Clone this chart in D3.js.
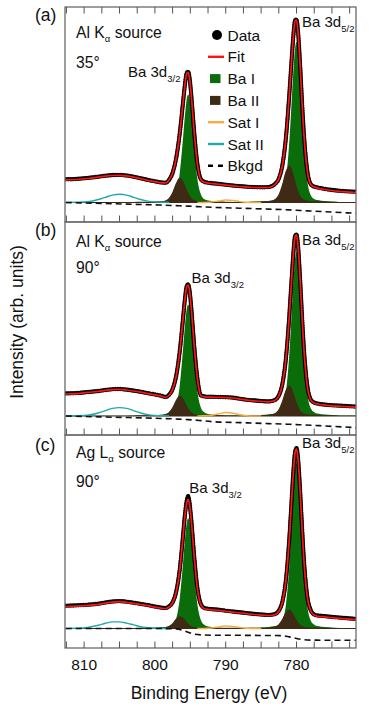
<!DOCTYPE html>
<html><head><meta charset="utf-8">
<script src="https://cdn.jsdelivr.net/npm/d3@7"></script>
<style>
body{margin:0;background:#fff}
svg{display:block}
text{font-family:"Liberation Sans",Arial,Helvetica,sans-serif;fill:#111}
</style>
</head><body>
<svg id="chart" width="374" height="708"></svg>
<script>
// ---------- data (binding energy, eV) ----------
const energy = [812.6,811,809.5,808,807,806,805,804,803,802,801,800,799,798.5,798,797.5,797,796.5,796,795.8,795.5,795.3,795.1,794.8,794.5,794,793.5,793,792.5,792,791,790,789,788,787,786,785,784,783.5,783,782.5,782,781.5,781,780.7,780.5,780.2,780,779.8,779.5,779.2,779,778.5,778,777.5,777,776,775,774,773,771.6];

const dataA = [11.6,11.8,12.3,12.9,13.4,13.7,13.8,13.5,12.9,12.1,11.3,10.6,10.0,9.9,11.3,14.9,22.1,34.4,51.1,57.8,64.9,65.4,62.0,50.9,37.2,19.2,11.6,10.3,9.9,9.7,9.3,8.9,8.5,8.2,7.9,7.7,7.6,7.7,8.2,9.4,11.9,18.6,32.3,55.0,71.0,81.0,91.1,91.5,85.9,69.2,48.7,36.5,16.4,9.2,7.9,7.5,6.8,6.3,5.9,5.6,5.4];
const fitA  = [11.3,11.5,12.0,12.7,13.2,13.5,13.6,13.3,12.7,11.9,11.1,10.4,9.8,9.8,11.2,14.8,22.0,34.3,51.0,57.6,64.6,65.0,61.8,50.8,37.1,19.1,11.4,10.1,9.7,9.5,9.1,8.7,8.3,8.0,7.7,7.5,7.4,7.5,8.0,9.2,11.8,18.5,32.2,54.9,70.9,80.9,90.9,91.2,85.8,69.1,48.6,36.4,16.3,9.0,7.7,7.2,6.5,6.0,5.6,5.3,5.0];
const baIA  = [0.0,0.0,0.1,0.1,0.1,0.1,0.1,0.1,0.2,0.2,0.3,0.4,0.6,0.7,1.0,1.9,4.9,14.5,33.5,42.0,51.9,54.0,51.9,42.1,29.2,11.8,4.0,1.6,1.0,0.8,0.5,0.4,0.3,0.3,0.3,0.4,0.5,0.8,0.9,1.3,1.9,3.9,11.4,31.4,49.8,62.6,77.1,80.4,77.1,62.6,43.3,31.4,11.3,3.8,1.8,1.2,0.7,0.5,0.3,0.2,0.2];
const baIIA = [0,0,0,0,0,0,0,0,0,0.1,0.1,0.2,0.4,0.8,2.0,4.8,9.2,12.1,10.0,8.3,5.6,4.1,2.9,1.7,1.0,0.5,0.3,0.2,0.2,0.1,0.1,0,0,0,0,0.2,0.3,0.5,0.7,1.5,3.6,8.5,15.1,18.2,16.2,13.8,9.8,7.3,5.2,3.0,1.7,1.2,0.7,0.4,0.3,0.3,0.2,0.1,0,0,0];

const dataB = [11.3,11.5,12.0,12.5,13.0,13.4,13.5,13.2,12.7,12.1,11.4,10.8,10.0,9.5,10.6,13.5,20.0,32.2,49.9,57.2,65.0,65.8,62.5,51.3,37.2,18.8,10.3,9.8,9.6,9.6,9.5,9.4,9.2,8.6,8.1,7.8,7.5,7.3,7.5,8.1,10.2,16.0,28.7,51.2,68.0,78.7,90.0,90.8,85.7,69.0,48.4,36.0,15.7,8.3,6.7,6.2,5.7,5.4,5.2,5.0,4.7];
const fitB  = [11.0,11.2,11.8,12.3,12.8,13.2,13.3,13.0,12.5,11.9,11.2,10.6,9.8,9.3,10.4,13.3,19.8,32.0,49.7,57.0,64.7,65.5,62.3,51.1,37.0,18.6,10.1,9.6,9.4,9.4,9.3,9.2,9.0,8.4,7.9,7.6,7.3,7.1,7.3,7.9,10.0,15.8,28.5,51.0,67.8,78.5,89.8,90.6,85.5,68.8,48.2,35.8,15.5,8.1,6.5,6.0,5.4,5.1,4.9,4.7,4.4];
const baIB  = [0.0,0.0,0.1,0.1,0.1,0.1,0.1,0.1,0.2,0.2,0.3,0.4,0.6,0.8,1.1,1.9,5.0,15.0,34.6,43.5,53.6,55.8,53.6,43.5,30.1,12.2,4.1,1.7,1.0,0.8,0.5,0.4,0.4,0.3,0.4,0.4,0.5,0.8,1.0,1.3,1.9,4.0,11.6,32.0,50.8,63.8,78.7,82.0,78.7,63.8,44.2,32.0,11.6,3.9,1.9,1.2,0.7,0.5,0.3,0.2,0.2];
const baIIB = [0,0,0,0,0,0,0,0,0,0.1,0.1,0.2,0.3,0.7,1.7,4.0,7.6,10.0,8.3,6.8,4.6,3.4,2.4,1.4,0.8,0.4,0.3,0.2,0.1,0.1,0.1,0,0,0,0,0.1,0.2,0.4,0.6,1.2,3.0,7.0,12.5,15.0,13.4,11.4,8.1,6.0,4.3,2.5,1.4,1.0,0.6,0.4,0.3,0.2,0.1,0.1,0,0,0];

const dataC = [11.4,11.6,11.9,12.4,13.0,13.5,13.7,13.4,12.9,12.3,11.7,11.0,10.4,10.3,11.1,13.1,18.3,29.4,47.6,55.5,64.0,66.2,62.5,51.8,38.2,20.2,12.1,10.2,9.9,9.7,9.4,8.9,8.5,8.1,7.7,7.3,7.0,6.8,6.9,7.3,8.9,13.3,24.2,46.1,63.7,75.6,88.3,90.2,85.6,69.6,49.3,36.8,16.5,9.2,7.0,6.5,6.2,5.8,5.5,5.2,4.8];
const fitC  = [11.0,11.2,11.6,12.1,12.7,13.2,13.4,13.1,12.6,12.0,11.4,10.7,10.1,10.0,10.8,12.9,18.1,29.1,47.2,55.0,63.0,64.6,61.8,51.4,37.9,20.0,11.8,9.9,9.6,9.4,9.1,8.6,8.2,7.8,7.4,7.0,6.7,6.5,6.6,7.0,8.6,13.0,23.9,45.8,63.4,75.3,88.0,89.8,85.3,69.3,49.0,36.5,16.2,8.9,6.7,6.1,5.8,5.4,5.1,4.8,4.4];
const baIC  = [0.0,0.0,0.1,0.1,0.1,0.1,0.1,0.1,0.2,0.2,0.3,0.4,0.6,0.8,1.1,1.9,5.0,14.8,34.1,42.9,52.9,55.1,52.9,42.9,29.7,12.1,4.1,1.7,1.0,0.8,0.5,0.4,0.4,0.3,0.4,0.4,0.5,0.8,1.0,1.3,1.9,4.0,11.7,32.2,51.1,64.3,79.2,82.6,79.2,64.3,44.5,32.2,11.7,4.0,1.9,1.2,0.7,0.5,0.3,0.2,0.2];
const baIIC = [0,0,0,0,0,0,0,0,0,0,0.1,0.1,0.2,0.4,1.0,2.3,4.5,5.9,4.9,4.1,2.7,2.0,1.4,0.8,0.5,0.2,0.2,0.1,0.1,0,0,0,0,0,0,0.1,0.1,0.2,0.4,0.7,1.8,4.3,7.7,9.25,8.2,7.0,5.0,3.7,2.6,1.5,0.9,0.6,0.3,0.2,0.2,0.1,0.1,0,0,0,0];

// satellites (own energy grids)
const satIIEnergy = [812.6,811,809.5,808,807,806,805,804,803,802,801,800,799,798];
const satIIA = [0,0.1,0.4,1.5,2.6,3.7,4.1,3.7,2.6,1.5,0.7,0.3,0.1,0];
const satIIB = [0,0.1,0.4,1.5,2.7,3.8,4.2,3.8,2.7,1.5,0.7,0.3,0.1,0];
const satIIC = [0,0.1,0.5,1.6,2.6,3.3,3.3,2.7,1.8,0.9,0.4,0.1,0,0];
const satIEnergy = [794,793,792.5,792,791,790,789,788,787,786,785];
const satIA = [0,0.05,0.13,0.27,0.77,1.19,0.98,0.44,0.11,0.01,0];
const satIB = [0,0.07,0.18,0.38,1.09,1.69,1.39,0.62,0.16,0.02,0];
const satIC = [0,0.05,0.14,0.28,0.8,1.24,1.02,0.46,0.11,0.01,0];

// background
const bkgdEnergy = [812.6,806,800,797,796,795.3,794.5,793.5,792,788,784,782,781,780,779,778,776,771.6];
const bkgdA = [0,-0.6,-1.2,-1.55,-1.7,-1.8,-1.95,-2.15,-2.4,-2.85,-3.3,-3.55,-3.7,-3.9,-4.05,-4.25,-4.6,-5.4];
const bkgdB = [0,-0.6,-1.1,-1.5,-1.65,-1.8,-2.0,-2.3,-2.8,-3.3,-3.8,-4.0,-4.15,-4.3,-4.45,-4.6,-5.0,-5.8];
const bkgdC = [0,0,0,-0.2,-1.0,-1.9,-2.8,-3.2,-3.35,-3.4,-3.5,-3.6,-4.2,-5.0,-5.6,-5.8,-5.85,-5.9];

// axis
const tickLabels = [810,800,790,780];
const tickMarks = [812.5,810,807.5,805,802.5,800,797.5,795,792.5,790,787.5,785,782.5,780,777.5,775,772.5];

const panelTags = ["(a)","(b)","(c)"];
const sourceMain = ["Al K","Al K","Ag L"];
const angles = ["35°","90°","90°"];
const legendNames = ["Data","Fit","Ba I","Ba II","Sat I","Sat II","Bkgd"];

// ---------- build ----------
const panels = [
  {data:dataA, fit:fitA, baI:baIA, baII:baIIA, satI:satIA, satII:satIIA, bkgd:bkgdA},
  {data:dataB, fit:fitB, baI:baIB, baII:baIIB, satI:satIB, satII:satIIB, bkgd:bkgdB},
  {data:dataC, fit:fitC, baI:baIC, baII:baIIC, satI:satIC, satII:satIIC, bkgd:bkgdC}
];
const geo = [
  {top:7,   bottom:222, base:202.5, lab3:[128,77.3],  lab5:[302,26.7],  src:38.3,  ang:67.7,  tag:20.5},
  {top:222, bottom:435, base:416,   lab3:[191.5,283.3], lab5:[302,245], src:246.7, ang:273.3, tag:235.5},
  {top:435, bottom:648, base:628.5, lab3:[189.3,492.7], lab5:[302,448.3], src:458.3, ang:486.7, tag:450.5}
];
const col = {green:'#0a6d0a', brown:'#3f2a15', orange:'#f7ad45', teal:'#22a9a9', red:'#ff1414', ink:'#111'};

const svg = d3.select('#chart');
const x = d3.scaleLinear().domain([812.7,771.6]).range([65,356]);
const defs = svg.append('defs');

panels.forEach((p,i)=>{
  const g = geo[i];
  const y = d3.scaleLinear().domain([(g.base-g.bottom)/2,(g.base-g.top)/2]).range([g.bottom,g.top]);
  defs.append('clipPath').attr('id','clip'+i).append('rect')
    .attr('x',65).attr('y',g.top).attr('width',291).attr('height',g.bottom-g.top);
  const layer = svg.append('g').attr('clip-path',`url(#clip${i})`);

  const zip = (E,arr)=>E.map((e,k)=>[e,arr[k]]);
  const area = d3.area().x(d=>x(d[0])).y0(y(0)).y1(d=>y(d[1])).curve(d3.curveMonotoneX);
  const line = d3.line().x(d=>x(d[0])).y(d=>y(d[1])).curve(d3.curveMonotoneX);

  layer.append('path').attr('d',area(zip(energy,p.baI))).attr('fill',col.green);
  layer.append('path').attr('d',area(zip(energy,p.baII))).attr('fill',col.brown)
       .attr('stroke',col.brown).attr('stroke-width',1.1);
  layer.append('path').attr('d',line(zip(satIEnergy,p.satI))).attr('fill','none')
       .attr('stroke',col.orange).attr('stroke-width',1.5);
  layer.append('path').attr('d',line(zip(satIIEnergy,p.satII))).attr('fill','none')
       .attr('stroke',col.teal).attr('stroke-width',1.4);
  layer.append('path').attr('d',line(zip(bkgdEnergy,p.bkgd))).attr('fill','none')
       .attr('stroke',col.ink).attr('stroke-width',1.6).attr('stroke-dasharray','6,4');
  // data: dense black dotted band
  const dpts = zip(energy,p.data);
  layer.append('path').attr('d',line(dpts)).attr('fill','none')
       .attr('stroke','#000').attr('stroke-width',3.6).attr('stroke-linejoin','round');
  layer.append('path').attr('d',line(dpts)).attr('fill','none')
       .attr('stroke','#000').attr('stroke-width',4.4).attr('stroke-linecap','round')
       .attr('stroke-dasharray','0.1,2.4').attr('opacity',0.8);
  layer.selectAll('circle.pt').data(dpts).join('circle').attr('class','pt')
       .attr('cx',d=>x(d[0])).attr('cy',d=>y(d[1])).attr('r',1.4).attr('fill','#000');
  layer.append('path').attr('d',line(zip(energy,p.fit))).attr('fill','none')
       .attr('stroke',col.red).attr('stroke-width',1.7);

  // frame
  svg.append('rect').attr('x',65).attr('y',g.top).attr('width',291).attr('height',g.bottom-g.top)
     .attr('fill','none').attr('stroke','#6a6a6a').attr('stroke-width',1.3);
  // ticks
  const tk = svg.append('g').attr('stroke','#555').attr('stroke-width',1);
  tickMarks.forEach(t=>{
    tk.append('line').attr('x1',x(t)).attr('x2',x(t)).attr('y1',g.bottom).attr('y2',g.bottom-6.5);
    if(i===0) tk.append('line').attr('x1',x(t)).attr('x2',x(t)).attr('y1',g.top).attr('y2',g.top+6.5);
  });

  // texts
  svg.append('text').attr('x',35).attr('y',g.tag).attr('font-size',17.5).text(panelTags[i]);
  const s = svg.append('text').attr('x',76).attr('y',g.src).attr('font-size',15.7);
  s.append('tspan').text(sourceMain[i]);
  s.append('tspan').attr('font-size',9.5).attr('dy',4).text('α');
  s.append('tspan').attr('dy',-4).text(' source');
  svg.append('text').attr('x',76).attr('y',g.ang).attr('font-size',15.7).text(angles[i]);
  const l3 = svg.append('text').attr('x',g.lab3[0]).attr('y',g.lab3[1]).attr('font-size',15);
  l3.append('tspan').text('Ba 3d');
  l3.append('tspan').attr('font-size',9.5).attr('dy',5).text('3/2');
  const l5 = svg.append('text').attr('x',g.lab5[0]).attr('y',g.lab5[1]).attr('font-size',15);
  l5.append('tspan').text('Ba 3d');
  l5.append('tspan').attr('font-size',9.5).attr('dy',5).text('5/2');
});

// x tick labels & axis title
tickLabels.forEach(t=>{
  svg.append('text').attr('x',x(t)).attr('y',670).attr('text-anchor','middle').attr('font-size',15.5).text(t);
});
svg.append('text').attr('x',209).attr('y',699).attr('text-anchor','middle').attr('font-size',17.5).text('Binding Energy (eV)');
svg.append('text').attr('transform','translate(23.3,322) rotate(-90)').attr('text-anchor','middle')
   .attr('font-size',17.5).text('Intensity (arb. units)');

// legend (panel a)
const lg = svg.append('g');
const lx = 216, tx = 227.5, by = 40.5, dy = 21.8;
legendNames.forEach((n,k)=>{
  const cy = by + k*dy - 5.5;
  if(k===0) lg.append('circle').attr('cx',lx+1).attr('cy',cy).attr('r',5).attr('fill','#000');
  if(k===1) lg.append('line').attr('x1',lx-8).attr('x2',lx+8).attr('y1',cy).attr('y2',cy).attr('stroke',col.red).attr('stroke-width',2.4);
  if(k===2) lg.append('rect').attr('x',lx-6).attr('y',cy-4.5).attr('width',10.5).attr('height',9).attr('fill',col.green);
  if(k===3) lg.append('rect').attr('x',lx-6).attr('y',cy-4.5).attr('width',10.5).attr('height',9).attr('fill',col.brown);
  if(k===4) lg.append('line').attr('x1',lx-8).attr('x2',lx+8).attr('y1',cy).attr('y2',cy).attr('stroke',col.orange).attr('stroke-width',2.4);
  if(k===5) lg.append('line').attr('x1',lx-8).attr('x2',lx+8).attr('y1',cy).attr('y2',cy).attr('stroke',col.teal).attr('stroke-width',2.4);
  if(k===6) lg.append('line').attr('x1',lx-8).attr('x2',lx+9).attr('y1',cy).attr('y2',cy).attr('stroke','#000').attr('stroke-width',2.4).attr('stroke-dasharray','5,5');
  lg.append('text').attr('x',tx).attr('y',by+k*dy).attr('font-size',15.5).text(n);
});
</script>
</body></html>
